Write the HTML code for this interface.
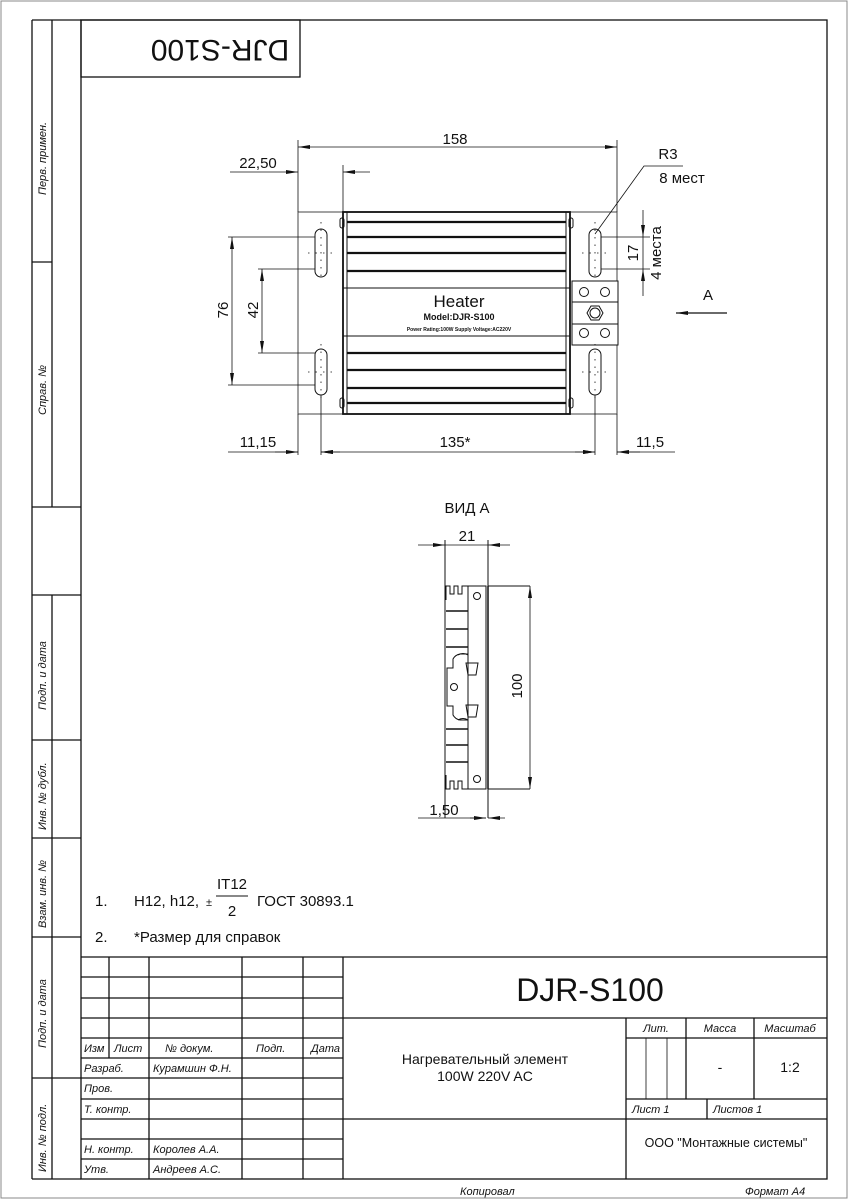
<!DOCTYPE html>
<html><head><meta charset="utf-8"><style>
html,body{margin:0;padding:0;background:#fff}
svg{display:block}
text{font-family:"Liberation Sans","DejaVu Sans",sans-serif;fill:#111}
.it{font-style:italic}
</style></head><body>
<svg width="848" height="1200" viewBox="0 0 848 1200" xmlns="http://www.w3.org/2000/svg">
<defs>
<marker id="a" viewBox="0 0 12 4" refX="12" refY="2" markerWidth="12" markerHeight="4" orient="auto-start-reverse" markerUnits="userSpaceOnUse"><path d="M0,0L12,2L0,4z" fill="#111"/></marker>
</defs>
<rect x="1" y="1" width="846" height="1197" fill="none" stroke="#888" stroke-width="1"/>
<g fill="none" stroke="#111" stroke-width="1.3">
<rect x="81" y="20" width="746" height="1159"/>
<rect x="81" y="20" width="219" height="57"/>
<path d="M32 20V1179M52 20V507M52 595V1179M32 20H81M32 262H52M32 507H81M32 595H81M32 740H81M32 838H81M32 937H81M32 1078H81M32 1179H81"/>
</g>
<g class="it" font-size="11">
<text transform="translate(46,195) rotate(-90)">Перв. примен.</text>
<text transform="translate(46,415) rotate(-90)">Справ. №</text>
<text transform="translate(46,710) rotate(-90)">Подп. и дата</text>
<text transform="translate(46,830) rotate(-90)">Инв. № дубл.</text>
<text transform="translate(46,928) rotate(-90)">Взам. инв. №</text>
<text transform="translate(46,1048) rotate(-90)">Подп. и дата</text>
<text transform="translate(46,1172) rotate(-90)">Инв. № подл.</text>
</g>
<text transform="translate(220,48) rotate(180)" font-size="30" text-anchor="middle" dominant-baseline="middle">DJR-S100</text>

<g fill="none" stroke="#111" stroke-width="1">
<rect x="298" y="212" width="319" height="202" stroke="#444"/>
<rect x="343" y="212" width="227" height="202" stroke-width="1.8"/>
<path d="M347 212V414M566 212V414" />
<path d="M343 288H570M343 336H570"/>
<g stroke-width="2.2"><path d="M347 222H566M347 237H566M347 253H566M347 271H566M347 353H566M347 370H566M347 388H566M347 403H566"/></g>
<rect x="572" y="281" width="46" height="64" fill="#fff"/>
<path d="M572 302H618M572 324H618"/>
<circle cx="584" cy="292" r="4.5"/><circle cx="605" cy="292" r="4.5"/>
<circle cx="584" cy="333" r="4.5"/><circle cx="605" cy="333" r="4.5"/>
<circle cx="595" cy="313" r="5"/><path d="M587 313l4-7h8l4 7-4 7h-8z"/>
<rect x="315" y="229" width="12" height="48" rx="6"/>
<rect x="315" y="349" width="12" height="46" rx="6"/>
<rect x="589" y="229" width="12" height="48" rx="6"/>
<rect x="589" y="349" width="12" height="46" rx="6"/>
<rect x="340" y="218" width="4" height="10" rx="2"/><rect x="340" y="398" width="4" height="10" rx="2"/>
<rect x="569" y="218" width="4" height="10" rx="2"/><rect x="569" y="398" width="4" height="10" rx="2"/>
</g>
<g stroke="#111" stroke-width="0.8" fill="none">
<path d="M298 140V212M617 140V212M343 165V212"/>
<path d="M228 237H315M258 269H315M258 353H315M228 385H315"/>
<path d="M321 395V455M595 395V455M298 414V455M617 414V455"/>
<path d="M601 237H650M601 269H650"/>
<path d="M298 147H617" marker-start="url(#a)" marker-end="url(#a)"/>
<path d="M230 172H298" marker-end="url(#a)"/><path d="M370 172H343" marker-end="url(#a)"/>
<path d="M232 237V385" marker-start="url(#a)" marker-end="url(#a)"/>
<path d="M262 269V353" marker-start="url(#a)" marker-end="url(#a)"/>
<path d="M228 452H298"/><path d="M275 452H298" marker-end="url(#a)"/><path d="M340 452H321" marker-end="url(#a)"/>
<path d="M321 452H595" marker-start="url(#a)" marker-end="url(#a)"/>
<path d="M575 452H595" marker-end="url(#a)"/><path d="M640 452H617" marker-end="url(#a)"/><path d="M617 452H675"/>
<path d="M643 210V237" marker-end="url(#a)"/><path d="M643 296V269" marker-end="url(#a)"/><path d="M643 237V269"/>
<path d="M595 234L644 166H683"/>
<path d="M727 313H676" marker-end="url(#a)" stroke-width="1.2"/>
<g stroke-dasharray="1.5 6"><path d="M321 222V282M595 222V282M321 344V400M595 344V400M308 253H334M582 253H608M308 372H334M582 372H608"/></g>
</g>
<g font-size="15">
<text x="455" y="144" text-anchor="middle">158</text>
<text x="258" y="168" text-anchor="middle">22,50</text>
<text transform="translate(228,310) rotate(-90)" text-anchor="middle">76</text>
<text transform="translate(258,310) rotate(-90)" text-anchor="middle">42</text>
<text x="258" y="447" text-anchor="middle">11,15</text>
<text x="455" y="447" text-anchor="middle">135*</text>
<text x="650" y="447" text-anchor="middle">11,5</text>
<text transform="translate(638,253) rotate(-90)" text-anchor="middle">17</text>
<text transform="translate(661,253) rotate(-90)" text-anchor="middle">4 места</text>
<text x="668" y="159" text-anchor="middle">R3</text>
<text x="682" y="183" text-anchor="middle">8 мест</text>
<text x="708" y="300" text-anchor="middle">A</text>
<text x="467" y="513" text-anchor="middle">ВИД А</text>
<text x="467" y="541" text-anchor="middle">21</text>
<text transform="translate(522,686) rotate(-90)" text-anchor="middle">100</text>
<text x="444" y="815" text-anchor="middle">1,50</text>
</g>
<text x="459" y="307" font-size="17" text-anchor="middle">Heater</text>
<text x="459" y="320" font-size="9" font-weight="bold" text-anchor="middle">Model:DJR-S100</text>
<text x="459" y="331" font-size="5" font-weight="bold" text-anchor="middle">Power Rating:100W Supply Voltage:AC220V</text>

<g fill="none" stroke="#111" stroke-width="1">
<rect x="468" y="586" width="18" height="203"/>
<path d="M488 586V789" stroke-width="1.5"/>
<path d="M445 586V818M488 540V586M445 540V586M488 789V818M530 586H488M530 789H488"/>
<path d="M446 600V586h4v8h4v-8h4v8h4v-8h6M446 775v14h4v-8h4v8h4v-8h4v8h6"/>
<path d="M446 611H468M446 629H468M446 647H468M446 729H468M446 745H468M446 762H468" stroke-width="1.5"/>
<path d="M468 654h-8a10 10 0 0 0-7 5v9h-6v38h6v9a10 10 0 0 0 7 5h8"/>
<path d="M468 655a9 9 0 0 0-10 0M468 720a9 9 0 0 0-10 0"/>
<circle cx="454" cy="687" r="3.5"/><circle cx="477" cy="596" r="3.5"/><circle cx="477" cy="779" r="3.5"/>
<path d="M466 663l2 12h8l2-12zM466 705l2 12h8l2-12z"/>
</g>
<g stroke="#111" stroke-width="0.8" fill="none">
<path d="M418 545H445" marker-end="url(#a)"/><path d="M510 545H488" marker-end="url(#a)"/><path d="M445 545H488"/>
<path d="M530 586V789" marker-start="url(#a)" marker-end="url(#a)"/>
<path d="M418 818H486"/><path d="M470 818H486" marker-end="url(#a)"/><path d="M505 818H488" marker-end="url(#a)"/>
</g>

<g font-size="15">
<text x="95" y="906">1.</text>
<text x="134" y="906">H12, h12,</text>
<text x="206" y="906" font-size="11">±</text>
<text x="232" y="889" text-anchor="middle">IT12</text>
<path d="M216 896H248" stroke="#111" stroke-width="1"/>
<text x="232" y="916" text-anchor="middle">2</text>
<text x="257" y="906">ГОСТ 30893.1</text>
<text x="95" y="942">2.</text>
<text x="134" y="942">*Размер для справок</text>
</g>

<g fill="none" stroke="#111" stroke-width="1.3">
<path d="M81 957H827M81 977H343M81 998H343M81 1018H827M81 1038H343M81 1058H343M81 1078H343M81 1099H343M81 1119H827M81 1139H343M81 1159H343"/>
<path d="M109 957V1058M149 957V1179M242 957V1179M303 957V1179M343 957V1179M626 1018V1179M686 1018V1099M754 1018V1099M707 1099V1119M626 1038H827M626 1099H827"/>
<path d="M646 1038V1099M667 1038V1099" stroke-width="0.8"/>
</g>
<g class="it" font-size="11">
<text x="84" y="1052">Изм</text><text x="114" y="1052">Лист</text><text x="165" y="1052">№ докум.</text><text x="256" y="1052">Подп.</text><text x="311" y="1052">Дата</text>
<text x="84" y="1072">Разраб.</text><text x="153" y="1072">Курамшин Ф.Н.</text>
<text x="84" y="1092">Пров.</text>
<text x="84" y="1113">Т. контр.</text>
<text x="84" y="1153">Н. контр.</text><text x="153" y="1153">Королев А.А.</text>
<text x="84" y="1173">Утв.</text><text x="153" y="1173">Андреев А.С.</text>
<text x="656" y="1032" text-anchor="middle">Лит.</text>
<text x="720" y="1032" text-anchor="middle">Масса</text>
<text x="790" y="1032" text-anchor="middle">Масштаб</text>
<text x="632" y="1113">Лист 1</text><text x="713" y="1113">Листов 1</text>
<text x="460" y="1195">Копировал</text>
<text x="745" y="1195">Формат А4</text>
</g>
<text x="590" y="1001" font-size="32" text-anchor="middle">DJR-S100</text>
<g font-size="14" text-anchor="middle">
<text x="485" y="1064">Нагревательный элемент</text>
<text x="485" y="1081">100W 220V AC</text>
<text x="720" y="1072">-</text>
<text x="790" y="1072">1:2</text>
<text x="726" y="1147" font-size="12.5">ООО "Монтажные системы"</text>
</g>
</svg>
</body></html>
